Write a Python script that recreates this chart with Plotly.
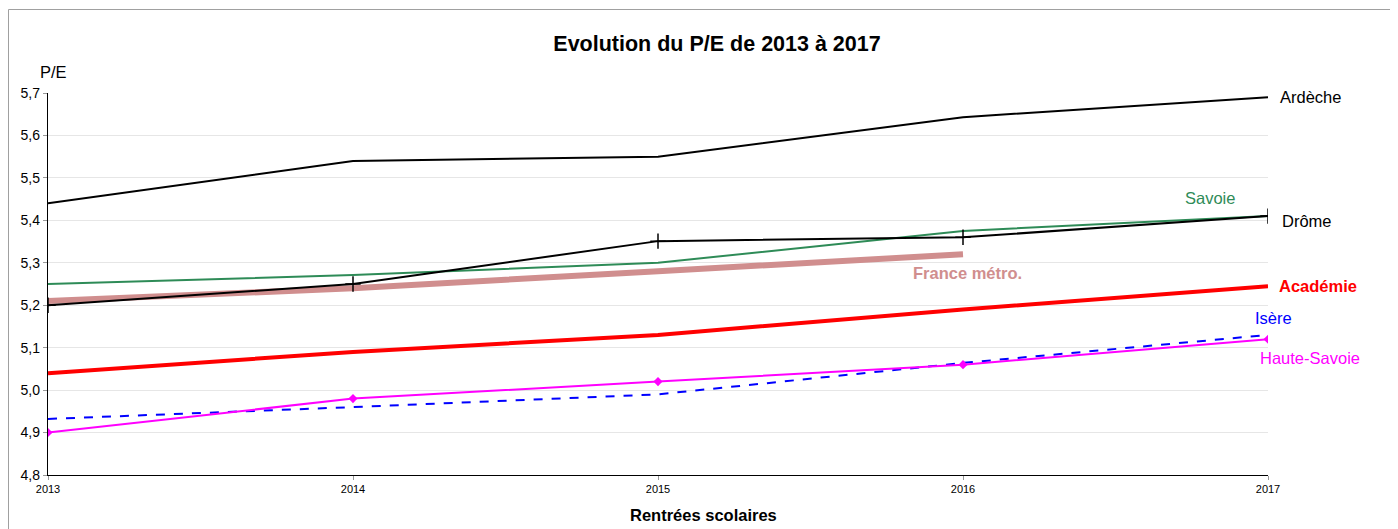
import plotly.graph_objects as go

years = [2013, 2014, 2015, 2016, 2017]
ardeche = [5.44, 5.54, 5.55, 5.643, 5.69]
drome = [5.20, 5.25, 5.351, 5.36, 5.41]
savoie = [5.25, 5.271, 5.30, 5.375, 5.41]
france = [5.21, 5.24, 5.28, 5.32]
academie = [5.04, 5.09, 5.13, 5.19, 5.245]
isere = [4.932, 4.96, 4.99, 5.064, 5.13]
haute_savoie = [4.90, 4.98, 5.02, 5.06, 5.12]

FONT = "Liberation Sans, Arial, sans-serif"

W, H = 1390, 521
L, T = 40, 85
PW = 1220
PH = 382

fig = go.Figure()
fig.add_trace(go.Scatter(x=years[:len(france)], y=france, mode="lines",
                         line=dict(color="#d08e8e", width=6), name="France métro."))
fig.add_trace(go.Scatter(x=years, y=ardeche, mode="lines",
                         line=dict(color="black", width=2), name="Ardèche"))
fig.add_trace(go.Scatter(x=years, y=savoie, mode="lines",
                         line=dict(color="#2e8b57", width=2), name="Savoie"))
fig.add_trace(go.Scatter(x=years, y=drome, mode="lines+markers",
                         line=dict(color="black", width=2),
                         marker=dict(symbol="cross-thin", size=11, line=dict(color="black", width=1.5)),
                         name="Drôme"))
fig.add_trace(go.Scatter(x=years, y=academie, mode="lines",
                         line=dict(color="#ff0000", width=4), name="Académie"))
fig.add_trace(go.Scatter(x=years, y=isere, mode="lines",
                         line=dict(color="#0000ff", width=2, dash="dash"), name="Isère"))
fig.add_trace(go.Scatter(x=years, y=haute_savoie, mode="lines+markers",
                         line=dict(color="#ff00ff", width=2),
                         marker=dict(symbol="diamond", size=7, color="#ff00ff"),
                         name="Haute-Savoie"))

# (x, y, text, color, bold, xanchor, xshift, yshift, size)
labels = [
    (2017, ardeche[-1], "Ardèche", "black", False, "left", 10, 0, 16.5),
    (2017, drome[-1], "Drôme", "black", False, "left", 12, -5, 16.5),
    (2016.81, 5.453, "Savoie", "#2e8b57", False, "center", 0, 0, 16.5),
    (2016.016, 5.276, "France métro.", "#d08e8e", True, "center", 0, 0, 16.5),
    (2017, academie[-1], "Académie", "#ff0000", True, "left", 9, 0, 16.5),
    (2017, isere[-1], "Isère", "#0000ff", False, "left", -15, 17, 16.5),
    (2017, haute_savoie[-1], "Haute-Savoie", "#ff00ff", False, "left", -10, -19, 16.5),
]
for x, y, t, c, b, xa, xs, ys, sz in labels:
    txt = f"<b>{t}</b>" if b else t
    fig.add_annotation(x=x, y=y, text=txt, showarrow=False, xanchor=xa,
                       xshift=xs, yshift=ys, font=dict(color=c, size=sz, family=FONT))

fig.add_annotation(xref="paper", yref="paper", x=(53 - 8 - L) / PW, y=1 + (T - (72 - 8)) / PH,
                   text="P/E", showarrow=False, xanchor="center", yanchor="middle",
                   font=dict(size=16.5, color="black", family=FONT))

fig.add_annotation(xref="paper", yref="paper", x=(703 - 8 - L) / PW, y=-(515 - 8 - (T + PH)) / PH,
                   text="<b>Rentrées scolaires</b>", showarrow=False, xanchor="center", yanchor="middle",
                   font=dict(size=16.5, color="black", family=FONT))

# outer frame
fig.add_shape(type="rect", xref="paper", yref="paper",
              x0=(0.5 - L) / PW, x1=1.2, y0=-0.3, y1=1 + (T - 1.5) / PH,
              line=dict(color="#a0a0a0", width=1), fillcolor="rgba(0,0,0,0)")

fig.update_layout(
    width=W, height=H,
    margin=dict(l=L, r=W - L - PW, t=T, b=H - T - PH),
    paper_bgcolor="white", plot_bgcolor="white",
    separators=", ",
    showlegend=False,
    font=dict(family=FONT, color="black"),
    title=dict(text="<b>Evolution du P/E de 2013 à 2017</b>", x=(717 - 8) / W, xanchor="center",
               y=1 - (43 - 8) / H, yanchor="middle", font=dict(size=21.5, family=FONT, color="black")),
)
fig.update_xaxes(range=[2013, 2017], tickvals=years, ticktext=[str(y) for y in years],
                 showgrid=False, showline=True, linecolor="black", linewidth=1.3,
                 ticks="outside", ticklen=4, tickcolor="#999999", tickwidth=1, tickfont=dict(size=11),
                 zeroline=False)
fig.update_yaxes(range=[4.8, 5.7], dtick=0.1, tickformat=".1f",
                 showgrid=True, gridcolor="#e6e6e6", gridwidth=1,
                 showline=True, linecolor="black", linewidth=1.3,
                 ticks="outside", ticklen=4, tickcolor="#999999", tickwidth=1, tickfont=dict(size=14),
                 zeroline=False)

fig.write_html("out.html")
